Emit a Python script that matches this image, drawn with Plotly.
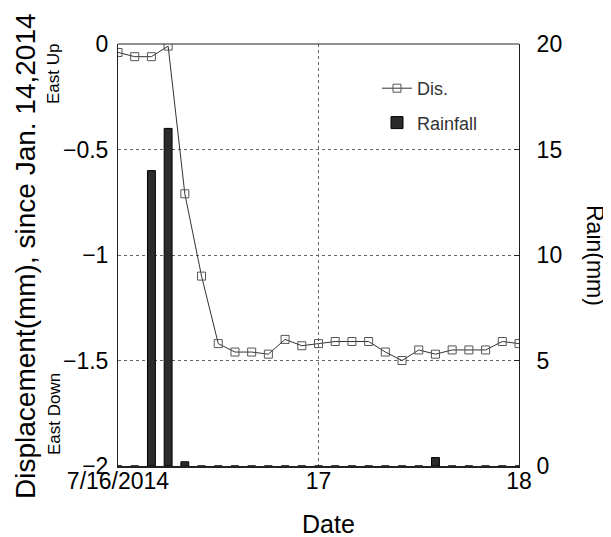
import plotly.graph_objects as go

# ---- data ----
times = [
    "2014-07-16 00:00", "2014-07-16 02:00", "2014-07-16 04:00", "2014-07-16 06:00",
    "2014-07-16 08:00", "2014-07-16 10:00", "2014-07-16 12:00", "2014-07-16 14:00",
    "2014-07-16 16:00", "2014-07-16 18:00", "2014-07-16 20:00", "2014-07-16 22:00",
    "2014-07-17 00:00", "2014-07-17 02:00", "2014-07-17 04:00", "2014-07-17 06:00",
    "2014-07-17 08:00", "2014-07-17 10:00", "2014-07-17 12:00", "2014-07-17 14:00",
    "2014-07-17 16:00", "2014-07-17 18:00", "2014-07-17 20:00", "2014-07-17 22:00",
    "2014-07-18 00:00",
]
displacement = [
    -0.04, -0.06, -0.06, -0.01, -0.71, -1.10, -1.42, -1.46, -1.46, -1.47,
    -1.40, -1.43, -1.42, -1.41, -1.41, -1.41, -1.46, -1.50, -1.45, -1.47,
    -1.45, -1.45, -1.45, -1.41, -1.42,
]
rainfall = [
    0, 0, 14, 16, 0.2, 0, 0, 0, 0, 0,
    0, 0, 0, 0, 0, 0, 0, 0, 0, 0.4,
    0, 0, 0, 0, 0,
]
x_tickvals = ["2014-07-16 00:00", "2014-07-17 00:00", "2014-07-18 00:00"]
x_ticktext = ["7/16/2014", "17", "18"]
y_tickvals = [0, -0.5, -1, -1.5, -2]
y2_tickvals = [0, 5, 10, 15, 20]

FONT = "Liberation Sans, Arial, sans-serif"

# page body has an 8px margin, so the figure is sized to fill the rest
W, H = 603, 529
L, T = 110, 36
PW, PH = 401, 422

def px(xp):
    return (xp - 8 - L) / PW

def py(yp):
    return (T + PH - (yp - 8)) / PH

fig = go.Figure()
fig.add_trace(go.Scatter(
    x=times, y=displacement, name="Dis.", mode="lines+markers",
    line=dict(color="#333333", width=1),
    marker=dict(symbol="square-open", size=8, color="#555555", line=dict(width=1)),
    legendgroup="a",
))
fig.add_trace(go.Bar(
    x=times, y=rainfall, yaxis="y2", name="Rainfall",
    width=3.4e6,
    marker=dict(color="#2b2b2b", line=dict(color="#000000", width=1)),
    legendgroup="b",
))

fig.update_layout(
    width=W, height=H,
    margin=dict(l=L, r=W - L - PW, t=T, b=H - T - PH, autoexpand=False),
    paper_bgcolor="white", plot_bgcolor="white",
    font=dict(family=FONT, color="#000000"),
    showlegend=True,
    legend=dict(
        x=px(377), y=py(70), xanchor="left", yanchor="top",
        font=dict(size=18, color="#333333"),
        bgcolor="rgba(0,0,0,0)", traceorder="grouped", tracegroupgap=8,
    ),
    xaxis=dict(
        type="date",
        range=["2014-07-16 00:00", "2014-07-18 00:00"],
        tickvals=x_tickvals, ticktext=x_ticktext,
        tickfont=dict(size=23),
        showgrid=True, gridcolor="#666666", griddash="dot", gridwidth=1,
        showline=True, linecolor="#222222", linewidth=2, mirror=False,
        ticks="", ticklabelstandoff=-7, zeroline=False,
    ),
    yaxis=dict(
        range=[-2, 0], tickvals=y_tickvals,
        tickfont=dict(size=23),
        showgrid=True, gridcolor="#666666", griddash="dot", gridwidth=1,
        showline=True, linecolor="#222222", linewidth=1, mirror=False,
        ticks="", ticklabelstandoff=4, zeroline=False,
    ),
    yaxis2=dict(
        range=[0, 20], tickvals=y2_tickvals,
        tickfont=dict(size=23),
        overlaying="y", side="right", anchor="x",
        showgrid=False, showline=True, linecolor="#222222", linewidth=1,
        ticks="inside", ticklen=5, tickcolor="#222222",
        ticklabelstandoff=12, zeroline=False,
    ),
    shapes=[dict(type="line", xref="paper", yref="paper", x0=0, x1=1, y0=1, y1=1,
                 line=dict(color="#222222", width=1))],
    annotations=[
        dict(text="Displacement(mm), since Jan. 14,2014", textangle=-90,
             xref="paper", yref="paper", x=px(25), y=py(256),
             xanchor="center", yanchor="middle", showarrow=False,
             font=dict(size=28)),
        dict(text="East Up", textangle=-90,
             xref="paper", yref="paper", x=px(54), y=py(74),
             xanchor="center", yanchor="middle", showarrow=False,
             font=dict(size=17)),
        dict(text="East Down", textangle=-90,
             xref="paper", yref="paper", x=px(54), y=py(414),
             xanchor="center", yanchor="middle", showarrow=False,
             font=dict(size=17)),
        dict(text="Rain(mm)", textangle=90,
             xref="paper", yref="paper", x=px(595), y=py(255),
             xanchor="center", yanchor="middle", showarrow=False,
             font=dict(size=23)),
        dict(text="Date",
             xref="paper", yref="paper", x=px(328), y=py(524),
             xanchor="center", yanchor="middle", showarrow=False,
             font=dict(size=25)),
    ],
)

fig.write_html("out.html")
